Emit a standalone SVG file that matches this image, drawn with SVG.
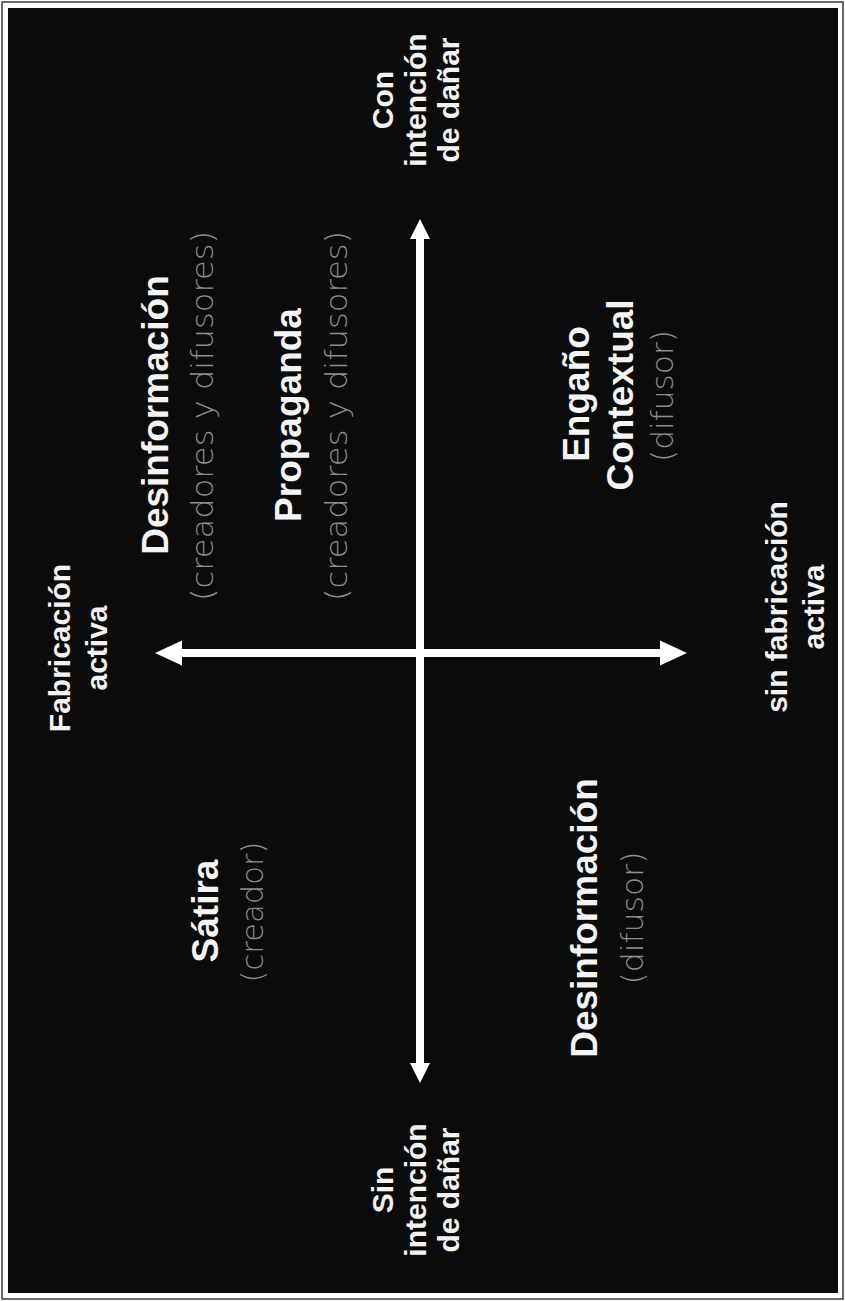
<svg xmlns="http://www.w3.org/2000/svg" width="845" height="1301" viewBox="0 0 845 1301">
  <style>
    .axis { font-family: "Liberation Sans", Arial, sans-serif; font-weight: bold; font-size: 30px; fill: #f2f2f2; text-anchor: middle; }
    .title { font-family: "Liberation Sans", Arial, sans-serif; font-weight: bold; font-size: 37px; fill: #f4f4f4; text-anchor: middle; }
    .sub { font-family: "DejaVu Sans", "Liberation Sans", sans-serif; font-weight: 200; font-size: 31px; fill: #8e8e8e; text-anchor: middle; }
    .shaft { stroke: #ffffff; stroke-width: 8; fill: none; }
  </style>
  <defs>
    <marker id="headH" markerUnits="userSpaceOnUse" markerWidth="28" markerHeight="26" refX="0" refY="12.5" orient="auto-start-reverse" viewBox="0 0 28 26" overflow="visible">
      <path d="M-1,0 L26,12.5 L-1,25 Z" fill="#ffffff"/>
    </marker>
    <marker id="headV" markerUnits="userSpaceOnUse" markerWidth="21" markerHeight="21" refX="0" refY="10" orient="auto-start-reverse" viewBox="0 0 21 21" overflow="visible">
      <path d="M-1,0 L19,10 L-1,20 Z" fill="#ffffff"/>
    </marker>
  </defs>

  <rect x="0" y="0" width="845" height="1301" fill="#ffffff"/>
  <rect x="2" y="2" width="841" height="1297" fill="none" stroke="#3a3a3a" stroke-width="1.5"/>
  <rect x="8" y="8" width="830" height="1285" fill="#0b0b0b"/>

  <g id="connectors">
    <line class="shaft" x1="181" y1="653" x2="661" y2="653" marker-start="url(#headH)" marker-end="url(#headH)"/>
    <line class="shaft" x1="420" y1="238" x2="420" y2="1064" marker-start="url(#headV)" marker-end="url(#headV)"/>
  </g>

  <g id="label-con-intencion">
    <text class="axis" transform="translate(393,100) rotate(-90)">Con</text>
    <text class="axis" transform="translate(426,100) rotate(-90)">intención</text>
    <text class="axis" transform="translate(459,100) rotate(-90)">de dañar</text>
  </g>

  <g id="label-sin-intencion">
    <text class="axis" transform="translate(393,1190) rotate(-90)">Sin</text>
    <text class="axis" transform="translate(426,1190) rotate(-90)">intención</text>
    <text class="axis" transform="translate(459,1190) rotate(-90)">de dañar</text>
  </g>

  <g id="label-fabricacion-activa">
    <text class="axis" transform="translate(70,648) rotate(-90)">Fabricación</text>
    <text class="axis" transform="translate(107,648) rotate(-90)">activa</text>
  </g>

  <g id="label-sin-fabricacion">
    <text class="axis" transform="translate(787,607) rotate(-90)">sin fabricación</text>
    <text class="axis" transform="translate(824,607) rotate(-90)">activa</text>
  </g>

  <g id="node-desinformacion-creadores">
    <text class="title" transform="translate(168,415) rotate(-90)">Desinformación</text>
    <text class="sub" transform="translate(213,416) rotate(-90)" textLength="370" lengthAdjust="spacingAndGlyphs">(creadores y difusores)</text>
  </g>

  <g id="node-propaganda">
    <text class="title" transform="translate(301,415) rotate(-90)">Propaganda</text>
    <text class="sub" transform="translate(347,416) rotate(-90)" textLength="370" lengthAdjust="spacingAndGlyphs">(creadores y difusores)</text>
  </g>

  <g id="node-engano-contextual">
    <text class="title" transform="translate(589,394) rotate(-90)">Engaño</text>
    <text class="title" transform="translate(633,395) rotate(-90)">Contextual</text>
    <text class="sub" transform="translate(673,396) rotate(-90)" textLength="132" lengthAdjust="spacingAndGlyphs">(difusor)</text>
  </g>

  <g id="node-satira">
    <text class="title" transform="translate(218,911) rotate(-90)">Sátira</text>
    <text class="sub" transform="translate(263,912) rotate(-90)" textLength="141" lengthAdjust="spacingAndGlyphs">(creador)</text>
  </g>

  <g id="node-desinformacion-difusor">
    <text class="title" transform="translate(597,918) rotate(-90)">Desinformación</text>
    <text class="sub" transform="translate(643,918) rotate(-90)" textLength="133" lengthAdjust="spacingAndGlyphs">(difusor)</text>
  </g>
</svg>
